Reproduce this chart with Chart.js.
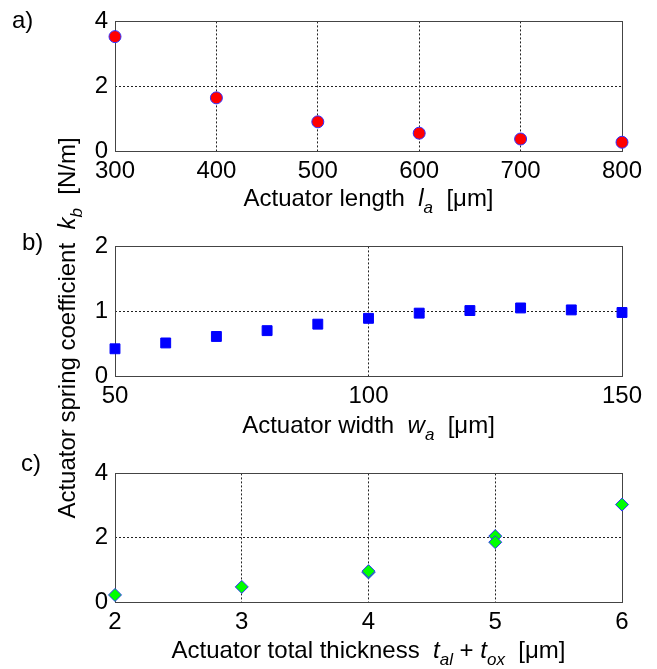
<!DOCTYPE html>
<html>
<head>
<meta charset="utf-8">
<script src="https://cdn.jsdelivr.net/npm/chart.js@4"></script>
<style>
  body { margin: 0; background: #fff; }
  #fig { position: relative; width: 657px; height: 669px; font-family: "Liberation Sans", Arial, sans-serif; font-size: 24px; color: #000; overflow: hidden; }
  canvas { position: absolute; left: 0; }
  .lbl { position: absolute; line-height: 24px; white-space: nowrap; }
  .xt { left: 115px; width: 507px; text-align: center; }
  sub { font-size: 17px; vertical-align: -7px; line-height: 0; }
</style>
</head>
<body>
<div id="fig">
  <canvas id="ca" width="657" height="190" style="top:0px"></canvas>
  <canvas id="cb" width="657" height="190" style="top:225px"></canvas>
  <canvas id="cc" width="657" height="190" style="top:452px"></canvas>

  <div class="lbl" style="left:12px;top:8px">a)</div>
  <div class="lbl" style="left:22px;top:230px">b)</div>
  <div class="lbl" style="left:21px;top:451px">c)</div>

  <div class="lbl xt" style="top:186px">Actuator length&nbsp; <i>l</i><sub><i>a</i></sub>&nbsp; [μm]</div>
  <div class="lbl xt" style="top:413px">Actuator width&nbsp; <i>w</i><sub><i>a</i></sub>&nbsp; [μm]</div>
  <div class="lbl xt" style="top:638px">Actuator total thickness&nbsp; <i>t</i><sub><i>al</i></sub> + <i>t</i><sub><i>ox</i></sub>&nbsp; [μm]</div>

  <div class="lbl" style="left:-163px;top:316px;width:460px;text-align:center;transform:rotate(-90deg)">Actuator spring coefficient&nbsp; <i>k</i><sub><i>b</i></sub>&nbsp; [N/m]</div>
</div>

<script>
// a) spring coefficient vs actuator length
const lengthA = [300, 400, 500, 600, 700, 800];
const kbLength = [3.53, 1.64, 0.90, 0.55, 0.37, 0.27];
// b) spring coefficient vs actuator width
const widthB = [50, 60, 70, 80, 90, 100, 110, 120, 130, 140, 150];
const kbWidth = [0.42, 0.51, 0.61, 0.70, 0.80, 0.89, 0.97, 1.01, 1.05, 1.02, 0.98];
// c) spring coefficient vs total thickness
const thickC = [2, 3, 4, 4, 5, 5, 6];
const kbThick = [0.22, 0.47, 0.92, 0.96, 2.05, 1.86, 3.03];

// tick labels
const xTicksA = [300, 400, 500, 600, 700, 800];
const xTicksB = [50, 100, 150];
const xTicksC = [2, 3, 4, 5, 6];
const yTicksA = [0, 2, 4];
const yTicksB = [0, 1, 2];
const yTicksC = [0, 2, 4];

const FONT = "'Liberation Sans', Arial, sans-serif";

// caja gris alrededor del área del gráfico (debajo de los puntos)
const boxPlugin = {
  id: "box",
  beforeDatasetsDraw(chart) {
    const a = chart.chartArea, ctx = chart.ctx;
    ctx.save();
    ctx.strokeStyle = "#444";
    ctx.lineWidth = 1;
    ctx.strokeRect(Math.round(a.left) + 0.5, Math.round(a.top) + 0.5,
      Math.round(a.right - a.left), Math.round(a.bottom - a.top));
    ctx.restore();
  },
};

function axis(ticks, fit, pad) {
  return {
    type: "linear",
    min: ticks[0],
    max: ticks[ticks.length - 1],
    afterBuildTicks: (s) => { s.ticks = ticks.map((v) => ({ value: v })); },
    afterFit: fit,
    grid: { color: "#222", lineWidth: 1, drawTicks: false },
    border: { display: false, dash: [2, 2] },
    ticks: { color: "#000", font: { family: FONT, size: 24 }, padding: pad, maxRotation: 0 },
  };
}

function makeChart(id, top, bottom, xs, ys, xTicks, yTicks, style) {
  const H = 190;
  new Chart(document.getElementById(id), {
    type: "scatter",
    data: {
      datasets: [{ data: xs.map((x, i) => ({ x: x, y: ys[i] })), clip: false, ...style }],
    },
    options: {
      responsive: false,
      animation: false,
      layout: { padding: { left: 85, right: 35, top: top, bottom: H - bottom - 30 } },
      plugins: { legend: { display: false }, tooltip: { enabled: false } },
      scales: {
        x: axis(xTicks, (s) => { s.height = 30; }, 6),
        y: axis(yTicks, (s) => { s.width = 30; }, 7),
      },
    },
    plugins: [boxPlugin],
  });
}

makeChart("ca", 19, 151, lengthA, kbLength, xTicksA, yTicksA, {
  pointStyle: "circle", pointRadius: 6, backgroundColor: "#ff0000", borderColor: "#3030ff", borderWidth: 1,
});
makeChart("cb", 20, 151, widthB, kbWidth, xTicksB, yTicksB, {
  pointStyle: "rect", pointRadius: 7, backgroundColor: "#0000ff", borderColor: "#0000ff", borderWidth: 1,
});
makeChart("cc", 20, 150, thickC, kbThick, xTicksC, yTicksC, {
  pointStyle: "rectRot", pointRadius: 6.5, backgroundColor: "#00ff00", borderColor: "#3030ff", borderWidth: 1,
});
</script>
</body>
</html>
